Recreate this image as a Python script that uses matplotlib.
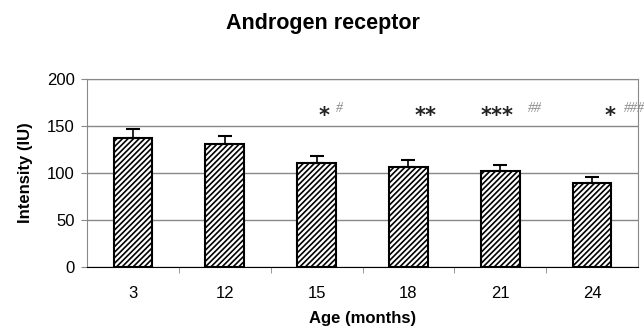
import numpy as np
import matplotlib
matplotlib.use("Agg")
import matplotlib.pyplot as plt

plt.rcParams['font.family'] = ['Liberation Sans', 'DejaVu Sans']
plt.rcParams['hatch.linewidth'] = 1.2

# data
ages = ['3', '12', '15', '18', '21', '24']
intensity = [137.5, 130.5, 110.6, 106, 102, 89.7]
sem = [9.5, 9, 8, 8, 6, 6]

# significance marks: (category index, x offset, text)
stars = [(2, 0.08, '*'), (3, 0.19, '**'), (4, -0.03, '***'), (5, 0.2, '*')]
hashes = [(2, 0.25, '#'), (4, 0.38, '##'), (5, 0.46, '###')]

fig = plt.figure(figsize=(6.44, 3.36), dpi=100)
ax = fig.add_axes([87/644, 1-267/336, (638-87)/644, (267-79)/336])

x = np.arange(len(ages))
ax.bar(x, intensity, width=0.42, color='white', edgecolor='black',
       hatch='//////', linewidth=1.5, zorder=3)
ax.errorbar(x, intensity, yerr=[np.zeros(len(sem)), sem], fmt='none',
            ecolor='black', elinewidth=1.2, capsize=5, capthick=1.5, zorder=4)

for i, dx, t in stars:
    ax.text(i + dx, 161, t, ha='center', va='center', fontsize=15,
            family='DejaVu Sans', fontweight='bold', color='#222222')
for i, dx, t in hashes:
    ax.text(i + dx, 169, t, ha='center', va='center', fontsize=10,
            family='Liberation Serif', color='#888888', style='italic',
            clip_on=False)

ax.set_xlim(-0.5, 5.5)
ax.set_ylim(0, 200)
ax.set_yticks([0, 50, 100, 150, 200])
ax.yaxis.grid(True, color='#888888', linewidth=1, zorder=0)
ax.set_xticks(x)
ax.set_xticklabels(ages, fontsize=12)
ax.set_xticks(np.arange(0.5, 5.5, 1), minor=True)
ax.tick_params(axis='x', which='major', length=0, pad=14)
ax.tick_params(axis='x', which='minor', length=4, color='#888888')
ax.tick_params(axis='y', labelsize=12, length=4, color='#888888', pad=5)

for s in ['top', 'right', 'left']:
    ax.spines[s].set_color('#888888')
ax.spines['bottom'].set_color('black')

ax.set_ylabel('Intensity (IU)', fontsize=12, fontweight='bold', labelpad=10)
ax.set_xlabel('Age (months)', fontsize=12, fontweight='bold', labelpad=7)
fig.text(323/644, 1-23/336, 'Androgen receptor', ha='center', va='center',
         fontsize=15.5, fontweight='bold')

fig.savefig('out.png', dpi=100)
